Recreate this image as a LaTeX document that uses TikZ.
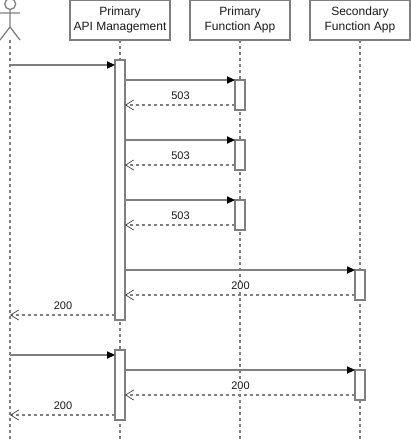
\documentclass[tikz,border=0pt]{standalone}
\usepackage{fontspec}
\setmainfont{Liberation Sans}
\usetikzlibrary{arrows.meta}
\definecolor{ln}{HTML}{7F7F7F}
\tikzset{
  participant/.style={draw=ln,fill=white,minimum width=100pt,minimum height=40pt,inner sep=0pt,outer sep=0pt,align=center,font=\fontsize{12}{15}\selectfont,text=black!90},
  lifeline/.style={draw=ln,dash pattern=on 3pt off 3pt},
  activation/.style={draw=ln,fill=white,minimum width=10pt,inner sep=0pt,outer sep=0pt},
  call/.style={draw=ln,-{Triangle[length=8pt,width=7.5pt,fill=black,color=black,line width=0pt]}},
  reply/.style={draw=ln,dash pattern=on 3pt off 3pt,-{Straight Barb[length=8pt,width=10pt,color=black!75,line width=0.7pt]}},
  msg/.style={font=\fontsize{11}{13}\selectfont,text=black!90,fill=white,inner sep=0.5pt,yshift=9pt,xshift=0.5pt}
}
\begin{document}
\begin{tikzpicture}[x=1pt,y=-1pt,line width=1.3pt]
\useasboundingbox (0,0) rectangle (411,441);
% actor
\draw[ln] (10.2,4) circle (5.5);
\draw[ln] (10,9.5) -- (10,27) (0,13) -- (20,13) (0,40) -- (10,27) -- (20,40);
\coordinate (actorfoot) at (10,40);
\coordinate (actorend) at (10,441);
% participants
\node[participant] (api) at (120,20) {Primary\\API Management};
\node[participant] (pf) at (240,20) {Primary\\Function App};
\node[participant] (sf) at (360,20) {Secondary\\Function App};
\coordinate (apiend) at (120,441);
\coordinate (pfend) at (240,441);
\coordinate (sfend) at (360,441);
% lifelines
\draw[lifeline] (actorfoot) -- (actorend);
\draw[lifeline] (api.south) -- (apiend);
\draw[lifeline] (pf.south) -- (pfend);
\draw[lifeline] (sf.south) -- (sfend);
% activations
\node[activation,minimum height=260pt] (a1) at (120,190) {};
\node[activation,minimum height=70pt] (a2) at (120,385) {};
\node[activation,minimum height=30pt] (f1) at (240,95) {};
\node[activation,minimum height=30pt] (f2) at (240,155) {};
\node[activation,minimum height=30pt] (f3) at (240,215) {};
\node[activation,minimum height=30pt] (s1) at (360,285) {};
\node[activation,minimum height=30pt] (s2) at (360,385) {};
% messages
\draw[call] (actorfoot |- 0,65) -- (a1.west |- 0,65);
\draw[call] (a1.east |- f1.north) -- (f1.north west);
\draw[reply] ([yshift=5pt]f1.south west) -- (a1.east |- 0,105) node[msg,midway] {503};
\draw[call] (a1.east |- f2.north) -- (f2.north west);
\draw[reply] ([yshift=5pt]f2.south west) -- (a1.east |- 0,165) node[msg,midway] {503};
\draw[call] (a1.east |- f3.north) -- (f3.north west);
\draw[reply] ([yshift=5pt]f3.south west) -- (a1.east |- 0,225) node[msg,midway] {503};
\draw[call] (a1.east |- s1.north) -- (s1.north west);
\draw[reply] ([yshift=5pt]s1.south west) -- (a1.east |- 0,295) node[msg,midway] {200};
\draw[reply] ([yshift=5pt]a1.south west) -- (actorfoot |- 0,315) node[msg,midway] {200};
\draw[call] (actorfoot |- 0,355) -- (a2.west |- 0,355);
\draw[call] (a2.east |- s2.north) -- (s2.north west);
\draw[reply] ([yshift=5pt]s2.south west) -- (a2.east |- 0,395) node[msg,midway] {200};
\draw[reply] ([yshift=5pt]a2.south west) -- (actorfoot |- 0,415) node[msg,midway] {200};
\end{tikzpicture}
\end{document}
